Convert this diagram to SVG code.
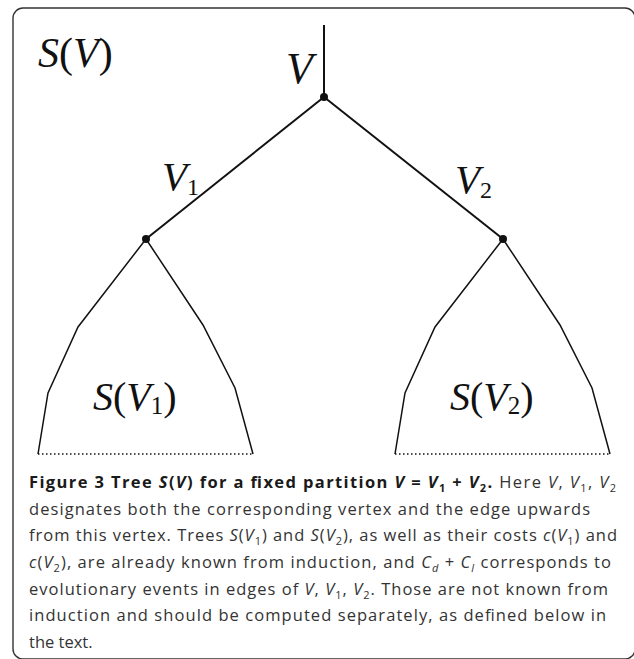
<svg xmlns="http://www.w3.org/2000/svg" width="634" height="659" viewBox="0 0 634 659">
<style>
.frame{fill:none;stroke:#333;stroke-width:1.4}
.edge{fill:none;stroke:#111;stroke-width:2}
.sub{fill:none;stroke:#111;stroke-width:1.5;stroke-linejoin:miter}
.dot{fill:none;stroke:#111;stroke-width:1.5;stroke-dasharray:1.5 2.5}
.node{fill:#111}
.lbl{font-family:"Liberation Serif","Times New Roman",serif;fill:#111}
.it{font-style:italic}
.cap{font-family:"Open Sans","Liberation Sans",sans-serif;font-size:16.5px;fill:#333}
.b{font-weight:bold;fill:#1a1a1a}
</style>
<rect class="frame" x="13" y="8" width="622" height="651" rx="10"/>
<g id="connectors">
<line class="edge" x1="324" y1="25" x2="324" y2="97"/>
<line class="edge" x1="324" y1="97" x2="146" y2="239"/>
<line class="edge" x1="324" y1="97" x2="503" y2="239"/>
</g>
<g id="root">
<circle class="node" cx="324" cy="97" r="4"/>
<text class="lbl it" x="286" y="83" font-size="44">V</text>
</g>
<g id="title">
<text class="lbl" x="38" y="67" font-size="42"><tspan class="it">S</tspan>(<tspan class="it">V</tspan>)</text>
</g>
<g id="v1">
<circle class="node" cx="146" cy="239" r="4"/>
<text class="lbl" x="162" y="190" font-size="41"><tspan class="it">V</tspan><tspan font-size="24" dy="5">1</tspan></text>
</g>
<g id="v2">
<circle class="node" cx="503" cy="239" r="4"/>
<text class="lbl" x="455" y="193" font-size="41"><tspan class="it">V</tspan><tspan font-size="24" dy="5">2</tspan></text>
</g>
<g id="subtree1">
<path class="sub" d="M146 239 L78 327 L48 393 L38 454 M146 239 L203 325 L235 388 L253 454"/>
<line class="dot" x1="38" y1="454" x2="253" y2="454"/>
<text class="lbl" x="93" y="410" font-size="40"><tspan class="it">S</tspan>(<tspan class="it">V</tspan><tspan font-size="25" dy="4">1</tspan><tspan dy="-4">)</tspan></text>
</g>
<g id="subtree2">
<path class="sub" d="M503 239 L435 327 L405 393 L395 454 M503 239 L560 325 L592 388 L610 454"/>
<line class="dot" x1="395" y1="454" x2="610" y2="454"/>
<text class="lbl" x="450" y="410" font-size="40"><tspan class="it">S</tspan>(<tspan class="it">V</tspan><tspan font-size="25" dy="4">2</tspan><tspan dy="-4">)</tspan></text>
</g>
<g id="caption">
<text class="cap" x="29" y="488" textLength="587" lengthAdjust="spacing"><tspan class="b">Figure 3 Tree <tspan font-style="italic">S</tspan>(<tspan font-style="italic">V</tspan>) for a fixed partition <tspan font-style="italic">V</tspan> = <tspan font-style="italic">V</tspan><tspan font-size="11" dy="4">1</tspan><tspan dy="-4"> + </tspan><tspan font-style="italic">V</tspan><tspan font-size="11" dy="4">2</tspan><tspan dy="-4">.</tspan></tspan> Here <tspan font-style="italic">V</tspan>, <tspan font-style="italic">V</tspan><tspan font-size="11" dy="4">1</tspan><tspan dy="-4">, </tspan><tspan font-style="italic">V</tspan><tspan font-size="11" dy="4">2</tspan></text>
<text class="cap" x="29" y="515" textLength="561" lengthAdjust="spacing">designates both the corresponding vertex and the edge upwards</text>
<text class="cap" x="29" y="541" textLength="588" lengthAdjust="spacing">from this vertex. Trees <tspan font-style="italic">S</tspan>(<tspan font-style="italic">V</tspan><tspan font-size="11" dy="4">1</tspan><tspan dy="-4">) and </tspan><tspan font-style="italic">S</tspan>(<tspan font-style="italic">V</tspan><tspan font-size="11" dy="4">2</tspan><tspan dy="-4">), as well as their costs </tspan><tspan font-style="italic">c</tspan>(<tspan font-style="italic">V</tspan><tspan font-size="11" dy="4">1</tspan><tspan dy="-4">) and</tspan></text>
<text class="cap" x="29" y="568" textLength="582" lengthAdjust="spacing"><tspan font-style="italic">c</tspan>(<tspan font-style="italic">V</tspan><tspan font-size="11" dy="4">2</tspan><tspan dy="-4">), are already known from induction, and </tspan><tspan font-style="italic">C</tspan><tspan font-size="11" font-style="italic" dy="4">d</tspan><tspan dy="-4"> + </tspan><tspan font-style="italic">C</tspan><tspan font-size="11" font-style="italic" dy="4">l</tspan><tspan dy="-4"> corresponds to</tspan></text>
<text class="cap" x="29" y="595" textLength="579" lengthAdjust="spacing">evolutionary events in edges of <tspan font-style="italic">V</tspan>, <tspan font-style="italic">V</tspan><tspan font-size="11" dy="4">1</tspan><tspan dy="-4">, </tspan><tspan font-style="italic">V</tspan><tspan font-size="11" dy="4">2</tspan><tspan dy="-4">. Those are not known from</tspan></text>
<text class="cap" x="29" y="621" textLength="577" lengthAdjust="spacing">induction and should be computed separately, as defined below in</text>
<text class="cap" x="29" y="648">the text.</text>
</g>
</svg>
